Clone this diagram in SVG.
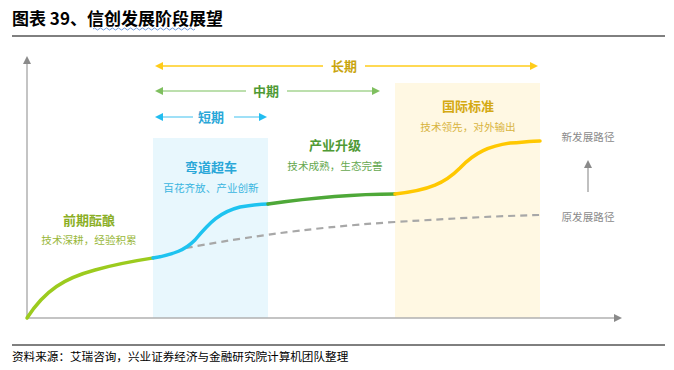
<svg xmlns="http://www.w3.org/2000/svg" width="674" height="370" viewBox="0 0 674 370">
<style>
text{font-family:"Noto Sans CJK SC","Noto Sans",sans-serif}
.h{font-size:13px;font-weight:bold;text-anchor:middle}
.s{font-size:10.6px;text-anchor:middle}
.curve{fill:none;stroke-width:3.5;stroke-linecap:round}
.axis{stroke:#b0b0b0;stroke-width:1.5;fill:none}
</style>
<defs>
<marker id="ag" markerWidth="8" markerHeight="8" refX="6" refY="4" orient="auto-start-reverse" markerUnits="userSpaceOnUse"><path d="M0,0 L8,4 L0,8 Z" fill="#8a8a8a"/></marker>
<marker id="ay" markerWidth="8" markerHeight="8" refX="6" refY="4" orient="auto-start-reverse" markerUnits="userSpaceOnUse"><path d="M0,0 L8,4 L0,8 Z" fill="#ffcc1a"/></marker>
<marker id="am" markerWidth="8" markerHeight="8" refX="6" refY="4" orient="auto-start-reverse" markerUnits="userSpaceOnUse"><path d="M0,0 L8,4 L0,8 Z" fill="#7fbf5f"/></marker>
<marker id="ab" markerWidth="8" markerHeight="8" refX="6" refY="4" orient="auto-start-reverse" markerUnits="userSpaceOnUse"><path d="M0,0 L8,4 L0,8 Z" fill="#22bdf0"/></marker>
</defs>
<rect width="674" height="370" fill="#ffffff"/>
<g id="title">
<text x="12" y="25" font-size="17" font-weight="bold" fill="#000">图表 39、信创发展阶段展望</text>
<path d="M93,29 q1.5,-2 3,0 t3,0 t3,0 t3,0 t3,0 t3,0 t3,0 t3,0 t3,0 t3,0 t3,0 t3,0 t3,0 t3,0 t3,0 t3,0 t3,0 t3,0 t3,0 t3,0 t3,0 t3,0 t3,0 t3,0 t3,0 t3,0 t3,0 t3,0 t3,0 t3,0 t3,0 t3,0 t3,0 t3,0" fill="none" stroke="#4a7fd0" stroke-width="0.8"/>
<line x1="12" y1="36" x2="665" y2="36" stroke="#000" stroke-width="1"/>
</g>
<g id="blue-zone"><rect x="153" y="138" width="115" height="180" fill="#e8f7fd"/></g>
<g id="yellow-zone"><rect x="395" y="83" width="145" height="235" fill="#fff8e3"/></g>
<g id="axes">
<line class="axis" x1="27" y1="318" x2="27" y2="58" marker-end="url(#ag)"/>
<line class="axis" x1="27" y1="318" x2="620" y2="318" marker-end="url(#ag)"/>
</g>
<g id="connectors">
<line x1="157" y1="66" x2="323" y2="66" stroke="#ffcc1a" stroke-width="1.5" marker-start="url(#ay)"/>
<line x1="365" y1="66" x2="536" y2="66" stroke="#ffcc1a" stroke-width="1.5" marker-end="url(#ay)"/>
<line x1="157" y1="91" x2="246" y2="91" stroke="#a6d492" stroke-width="1.5" marker-start="url(#am)"/>
<line x1="287" y1="91" x2="378" y2="91" stroke="#a6d492" stroke-width="1.5" marker-end="url(#am)"/>
<line x1="157" y1="117" x2="193" y2="117" stroke="#7fd6f5" stroke-width="1.5" marker-start="url(#ab)"/>
<line x1="234" y1="117" x2="265" y2="117" stroke="#7fd6f5" stroke-width="1.5" marker-end="url(#ab)"/>
<line x1="588" y1="192" x2="588" y2="162" stroke="#c0c0c0" stroke-width="2" marker-end="url(#ag)"/>
<path d="M186,248 C230,240 300,228 395,222 C460,218 500,216 540,215" fill="none" stroke="#a8a8a8" stroke-width="2.2" stroke-dasharray="7,5"/>
<path class="curve" stroke="#9ccb1e" d="M27,318 C45,290 65,278 95,270 C120,263 140,260 153,258"/>
<path class="curve" stroke="#1ec3f0" d="M153,258 C175,254 185,250 195,240 C210,222 220,212 240,207 C252,205 260,204 268,204"/>
<path class="curve" stroke="#4ea838" d="M268,204 C310,198 350,194 395,194"/>
<path class="curve" stroke="#ffc800" d="M395,194 C430,190 445,183 460,168 C475,152 490,146 510,143 C525,142 532,141 540,141"/>
</g>
<g id="long"><text class="h" x="344" y="71" fill="#c9a50e">长期</text></g>
<g id="mid"><text class="h" x="266" y="96" fill="#4f9a35">中期</text></g>
<g id="short"><text class="h" x="211" y="122" fill="#2aa7d8">短期</text></g>
<g id="stage1">
<text class="h" x="89" y="225" fill="#8aae24">前期酝酿</text>
<text class="s" x="89" y="244" fill="#9ab83c">技术深耕，经验积累</text>
</g>
<g id="stage2">
<text class="h" x="211" y="172" fill="#2aa7d8">弯道超车</text>
<text class="s" x="211" y="192" fill="#3ab5e0">百花齐放、产业创新</text>
</g>
<g id="stage3">
<text class="h" x="335" y="150" fill="#4f9a35">产业升级</text>
<text class="s" x="335" y="170" fill="#66a850">技术成熟，生态完善</text>
</g>
<g id="stage4">
<text class="h" x="468" y="111" fill="#d4a912">国际标准</text>
<text class="s" x="468" y="131" fill="#d8b440">技术领先，对外输出</text>
</g>
<g id="new-path"><text class="s" x="588" y="141" font-size="12" fill="#8a8a8a">新发展路径</text></g>
<g id="old-path"><text class="s" x="588" y="221" font-size="12" fill="#8a8a8a">原发展路径</text></g>
<g id="footer">
<line x1="12" y1="345" x2="665" y2="345" stroke="#000" stroke-width="1"/>
<text x="12" y="361" font-size="11.6" fill="#000">资料来源：艾瑞咨询，兴业证券经济与金融研究院计算机团队整理</text>
</g>
</svg>
